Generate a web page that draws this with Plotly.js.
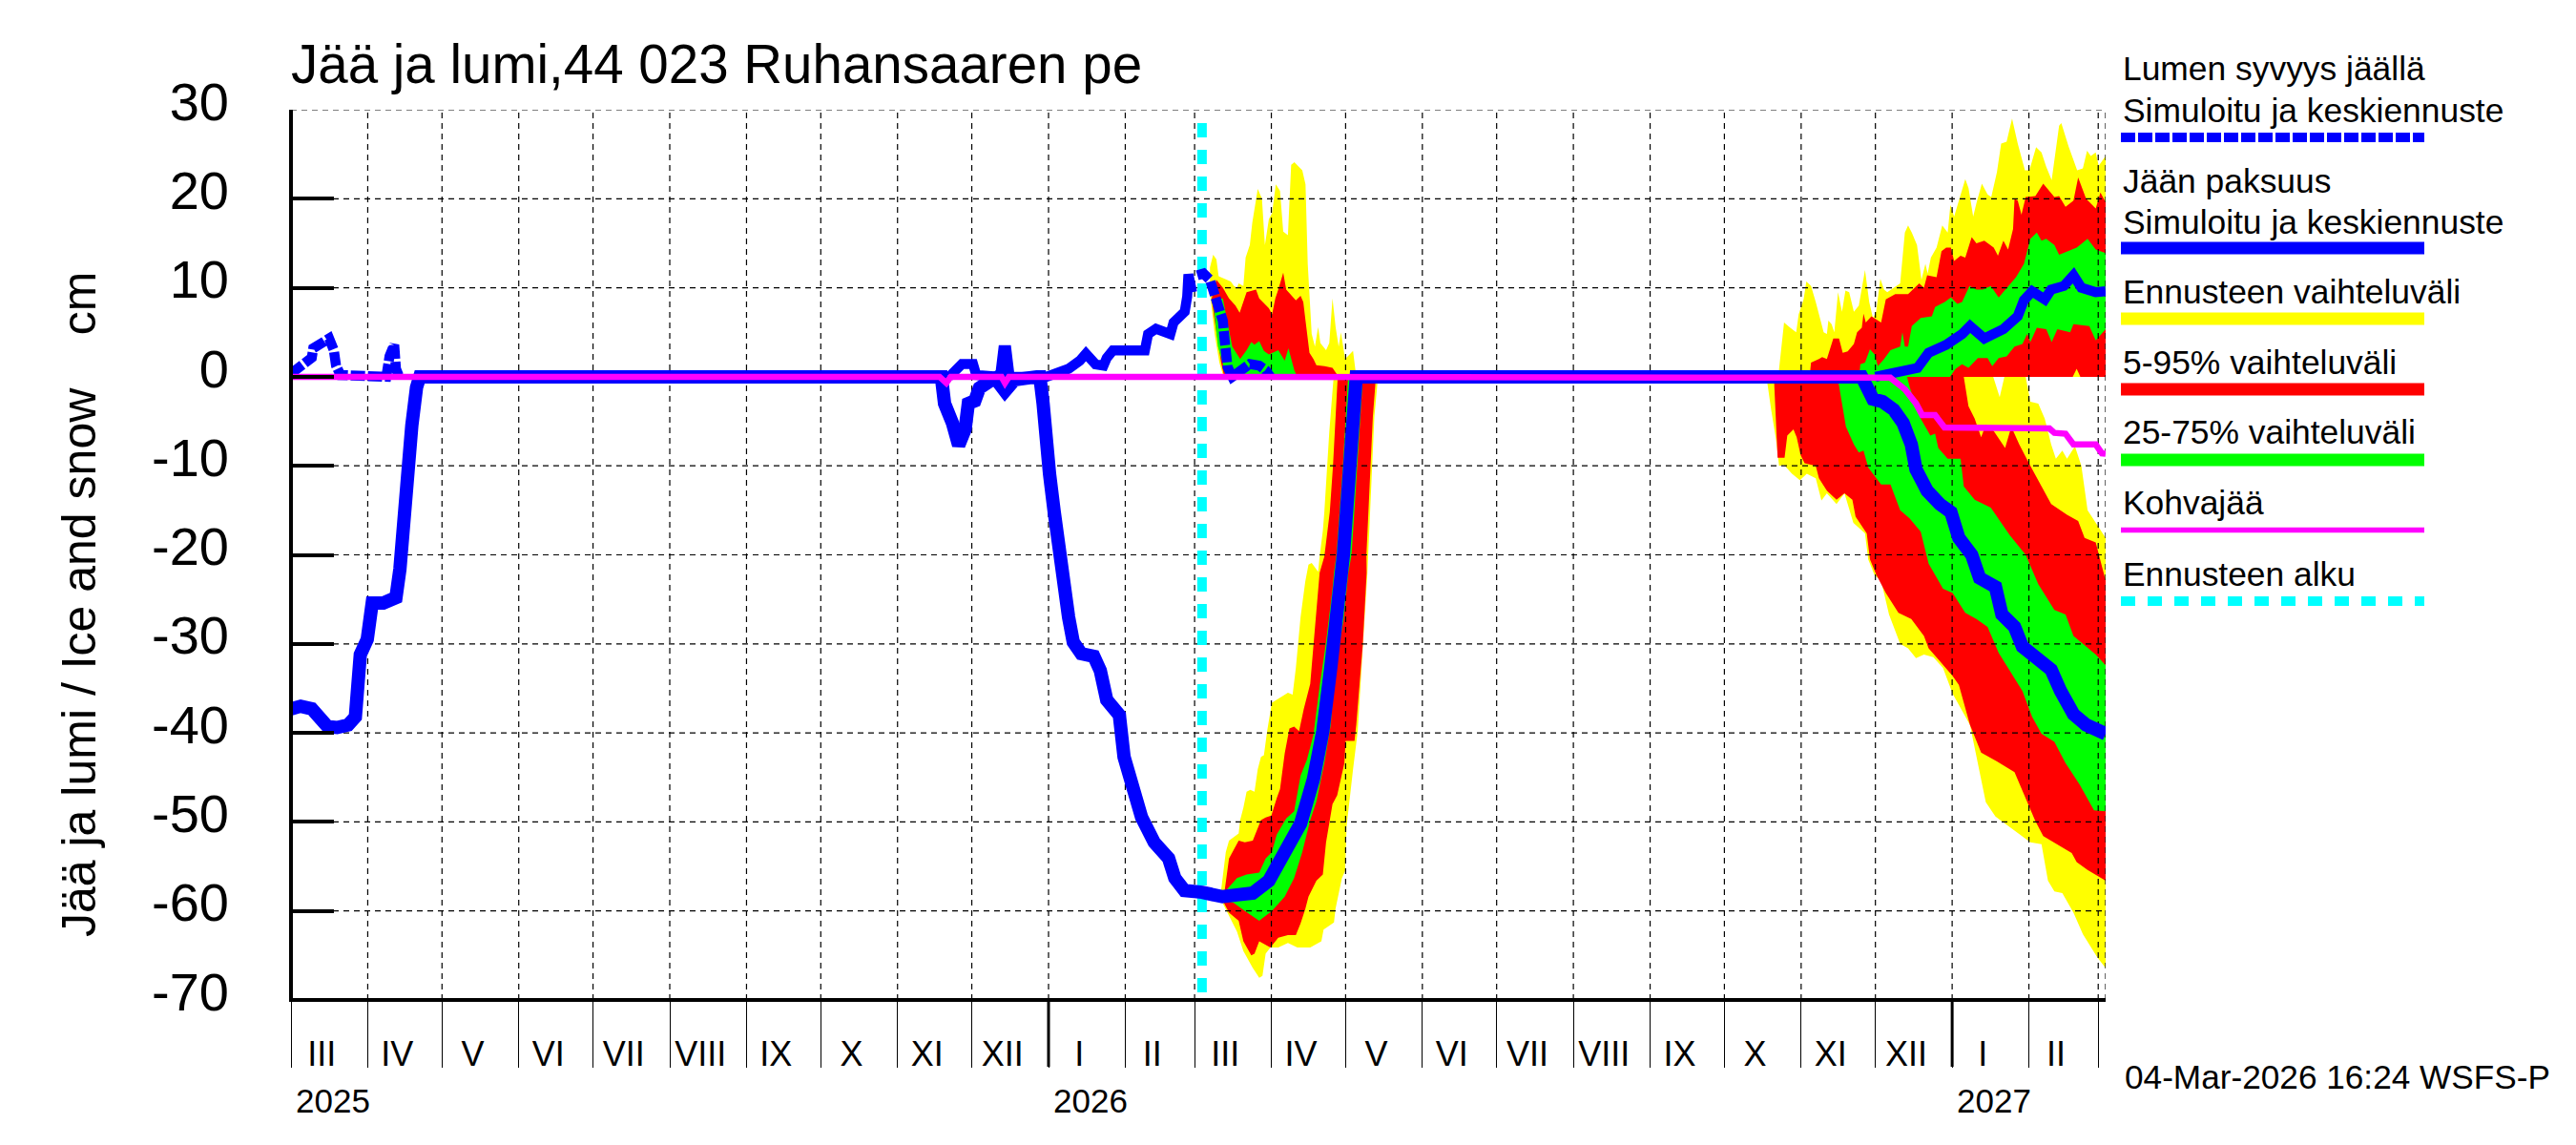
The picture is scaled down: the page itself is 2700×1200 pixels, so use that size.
<!DOCTYPE html>
<html><head><meta charset="utf-8">
<script src="https://cdn.plot.ly/plotly-3.0.1.min.js"></script>
<style>html,body{margin:0;padding:0;background:#fff}</style></head>
<body><div id="chart" style="width:2700px;height:1200px"></div>
<script>
// All series: day = days since 2025-03-01, cm = centimetres
const startDate = '2025-03-01', endDate = '2027-03-04', forecastDate = '2026-03-04';
const titleText = 'Jää ja lumi,44 023 Ruhansaaren pe';
const yTitleText = 'Jää ja lumi / Ice and snow\u00a0\u00a0\u00a0\u00a0cm';
const stampText = '04-Mar-2026 16:24 WSFS-P';
const monthAlias = {Jan:'I',Feb:'II',Mar:'III',Apr:'IV',May:'V',Jun:'VI',Jul:'VII',Aug:'VIII',Sep:'IX',Oct:'X',Nov:'XI',Dec:'XII'};
const yearTicks = ['2025-03-01','2026-01-01','2027-01-01'];
const yearLabels = ['2025','2026','2027'];
const heavyTicks = ['2026-01-01','2027-01-01'];
const monthStarts = ['2025-04-01','2025-05-01','2025-06-01','2025-07-01','2025-08-01','2025-09-01','2025-10-01','2025-11-01','2025-12-01','2026-01-01','2026-02-01','2026-03-01','2026-04-01','2026-05-01','2026-06-01','2026-07-01','2026-08-01','2026-09-01','2026-10-01','2026-11-01','2026-12-01','2027-01-01','2027-02-01','2027-03-01','2027-03-04'];
const yGrid = [30,20,10,-10,-20,-30,-40,-50,-60];
const yTickVals = [30,20,10,0,-10,-20,-30,-40,-50,-60,-70];
const yTickText = ['30','20','10','0','-10','-20','-30','-40','-50','-60','-70'];

// Simulated + mean forecast ice thickness
const iceDay = [0,3.9,8.4,11.6,14.8,18.6,23.1,26,26.7,28,30.8,32.1,32.8,37.3,42.4,44,45.6,46.9,48.8,50.7,52,262.7,264,267.2,269.7,272.3,273.6,276.2,278.1,282,284.5,288.4,292.2,301.2,302.5,303.8,305,306.4,308.3,310.2,312.1,314.1,316,319.2,324.3,326.9,329.5,334.6,336.5,339.7,343.6,348.7,354.5,357,360.9,368,376.3,382.1,388.5,395,401.4,407.8,413,416.8,420,424.5,425.1,427.7,429.8,430.3,634.5,635.2,636.5,639,642.9,647.4,651.2,654.5,656.4,660.9,666,670.5,673.7,678.9,682.1,688.5,691.1,696.2,699.4,704.6,711,714.8,720,725.1,733];
const iceCm = [-37.3,-37,-37.3,-38.4,-39.3,-39.4,-39.1,-38.2,-34.1,-31.2,-29.5,-26.2,-25.4,-25.4,-24.8,-21.6,-15.2,-10.9,-5.5,-1.2,0,0,-3,-5.2,-7.7,-5.9,-3,-2.7,-1.25,-0.53,-0.17,-1.6,-0.35,0,0,-3,-8.4,-10.9,-15.2,-19.8,-22.7,-27,-29.8,-31.1,-31.4,-33,-36.3,-38,-42.7,-46.3,-49.5,-52.3,-54.1,-56.3,-57.7,-57.9,-58.4,-58.2,-58,-56.6,-53.4,-50.2,-45.2,-39.8,-32.7,-22,-20,-10,-0.9,0,0,-0.4,-1.1,-2.5,-2.8,-3.7,-5.2,-7.6,-10.4,-12.8,-14.3,-15.2,-18.1,-20,-22.6,-23.6,-26.7,-28.1,-30.3,-31.5,-32.9,-35.3,-37.9,-39.1,-40.1];

// Simulated + mean forecast snow depth on ice
const snowDay = [0,3.9,8.4,9,15.4,17.3,18.2,20,38.5,39.8,41.7,42.4,43.7,265.9,269.1,271,275.5,276.8,286.4,287.7,289,290.3,305.1,314.1,318.6,321.1,325,328.2,329.5,332,344.9,346.2,349.4,355.2,356.5,359,361,362,362.5,364,366.1,368.6,371.2,373.1,375,376.4,377,377.6,378.3,380.2,383.4,387.3,391.1,393.7,395.6,640,645.5,651.9,657,661.5,668.6,675,678.2,684,691.7,697.5,700,703.3,708.4,711,716.1,720,723.2,729,733];
const snowCm = [0.36,1.26,2.15,3.2,4.3,3,1.26,0.2,0,2.3,3.6,0.9,0,0,0.72,1.43,1.43,0.2,0,3,3,0,0,0.9,1.8,2.6,1.4,1.25,2.1,2.97,2.97,4.8,5.4,4.8,6.1,6.8,7.3,9,11.5,9.5,11.4,11.6,10.9,9.5,8,6.3,4.5,2.7,1.1,0,0.55,1.44,1.26,0.75,0,0,0.35,0.5,1,2.7,3.6,4.8,5.7,4.3,5.35,6.8,8.6,9.6,8.7,9.8,10.2,11.4,10,9.5,9.6];
// stretches of the snow line where its dashes open up in the reference
const snowDashedSpans = [[0,44],[366,396]];

// Frazil / slush ice
const slushDay = [0,262,264.7,266.5,287,288.4,290,639,646,651.9,656.4,658.9,664.1,667.9,710.3,712.3,716.8,720,729,731.5,733];
const slushCm = [0,0,-0.7,0,0,-0.7,0,0,-0.1,-1.4,-3,-4.3,-4.3,-5.7,-5.8,-6.3,-6.4,-7.6,-7.6,-8.6,-8.65];

// Forecast start marker
const forecastMarkCm = [28.5,-70];

// ---- Spring 2026 ice bands
const spIceYelTopDay = [375.7,377.6,378.9,382.8,383.4,384.7,386,387.5,389.2,390.5,391.8,393,394.3,396.2,402.7,404.6,405.9,407.8,409.7,411,412.3,414.9,415.5,416.8,417.4,418.5,419.4,420.9,421.2];
const spIceYelTopCm  = [-57.7,-53.4,-52.1,-51.3,-49.8,-48.4,-46.6,-46.4,-46.6,-44.1,-42.7,-42.5,-39.8,-36.6,-35.5,-35.7,-32.7,-27,-23,-21.1,-20.9,-21.9,-20.2,-17.3,-15.2,-10,-6.2,-0.9,0];
const spIceYelBotDay = [376.3,379.6,382.1,384.7,388.5,391.1,392.4,393.7,395.6,398.8,402.7,406.5,411.7,416.2,417.1,421.3,421.9,424.5,425.8,426.4,429,430.9,432.9,434.8,435.2,436.1,436.7,437.6,438.8,438.9];
const spIceYelBotCm  = [-59.1,-60.9,-62.3,-64.5,-66.4,-67.5,-67.3,-64.8,-64.1,-64.1,-63.6,-64.1,-64.1,-63.4,-62.1,-61.3,-59.8,-56.3,-55.5,-50.5,-44.1,-39.8,-30.5,-22,-20,-15.2,-10,-4.5,-0.9,0];
const spIceRedTopDay = [377,378.9,382.8,385.3,388.5,391.8,393.7,396,398.2,399.5,401.4,403.3,405.2,407.2,409.1,411.7,413,415.5,417.4,419.6,420.9,422.6,422.8];
const spIceRedTopCm  = [-58,-54.1,-52.1,-52.3,-52.1,-49.8,-49.5,-49.3,-47.3,-46.3,-42.3,-39.5,-39.3,-39.8,-37.3,-34.5,-30.2,-22,-20.2,-15.2,-10,-0.9,0];
const spIceRedBotDay = [376.3,378.9,382.8,384.7,387.9,389.2,391.1,395.6,398.8,402.7,405.9,407.8,409.7,411,414.2,416.8,418.1,420.7,422.6,425.5,426,429.6,430.3,432.9,434.5,434.4,435.4,436.1,437,438,438.1];
const spIceRedBotCm  = [-58.8,-60.2,-61.1,-63.4,-65,-64.8,-63.4,-64.1,-63,-62.7,-62.7,-61.4,-59.8,-58.4,-56.6,-55.9,-52.3,-48,-47,-43.4,-40.9,-40.9,-39.1,-30.2,-22,-20,-15.2,-10,-4.5,-0.9,0];
const spIceGrnTopDay = [378.3,382.1,386,391.1,393.7,396.2,398.2,402,405.2,407.8,410.4,413,415.5,418.1,420.7,421.3,422.3,423.5,424.9,426.8,427];
const spIceGrnTopCm  = [-57.5,-56.3,-55.9,-55.7,-54.1,-53.4,-51.4,-49.6,-48.8,-44.8,-43,-40.2,-34.8,-29.8,-23.8,-22,-20,-15.2,-10,-0.9,0];
const spIceGrnBotDay = [377,380.8,385.3,391.1,396.2,401.4,405.2,408.5,411.7,414.2,417.4,420,421.9,425.2,427.1,428.4,429.3,430.7,432.8,433];
const spIceGrnBotCm  = [-58.8,-59.1,-60,-61.1,-60,-58.4,-56.3,-53.4,-49.8,-47.7,-43.4,-39.1,-32.7,-27.3,-22,-20,-15.9,-10,-0.9,0];

// ---- Spring 2026 snow bands
const spSnowYelTopDay = [371.2,372.5,373.8,374.7,379.6,380.9,382.1,382.8,384.7,385.6,387.3,388.3,390.5,392.2,393.4,395,396.3,397.8,399.5,400.8,402.7,404,405.3,408.5,409.8,410.7,412.3,413.6,414.9,415.8,418.1,419.4,420.7,422,423.2,424.1,425.8,429,430.3];
const spSnowYelTopCm  = [12.3,13.7,13.2,11.3,10.7,10.2,10,10.5,10.2,13.4,14.8,17.3,21.1,20,14.8,17.7,18.4,21.6,20.9,16.3,15.9,23.8,24.1,23.2,21.6,12.7,4.8,3.4,5.6,3.8,3,3.8,8.8,5.5,3.4,5,2,2.9,0];
const spSnowYelBotDay = [371.2,373.1,375,376.7];
const spSnowYelBotCm  = [9.5,4.8,1.6,0];
const spSnowRedTopDay = [373.8,376.4,378.9,381.5,383.2,386,389.8,391.1,395,396.3,397.6,398.8,400.8,402,405.9,407.8,408.9,409.8,411.4,413,414.2,417.5,420.7,423.2];
const spSnowRedTopCm  = [10.9,10,8.8,8,7.2,9.5,9.8,8.8,7.7,7,8.8,9.8,11.7,9.8,8.6,9.1,8.4,6.3,2.7,2,1.3,1.2,1,0];
const spSnowRedBotDay = [371.9,373.1,375.7,377];
const spSnowRedBotCm  = [8.8,6.3,1.6,0];
const spSnowGrnTopDay = [371.9,376.4,378.3,380.2,383.4,386,387.9,389.2,391.1,393,395,398.8,401.4,402.9,405.3,406.5];
const spSnowGrnTopCm  = [8.6,8.8,6.3,3.4,2,3,3.9,3.6,4,2.9,2.5,3,1.8,3.2,0.7,0];
const spSnowGrnBotDay = [372.5,374.4,376.3,377.6];
const spSnowGrnBotCm  = [8.4,3.4,1.6,0];

// ---- Autumn 2026 -> 2027 snow bands
const auSnowYelDay = [601.1,601.8,603.1,605.6,608,609,610,611,612.1,614,615.9,617.2,619.1,620.4,621,622.3,623.4,624.9,626.5,627.9,629.4,631.3,633.3,635.8,637.5,639,640.3,642,643.5,644.8,650,651.9,653.2,654.7,656.8,658.6,660.2,661.1,662.4,664.7,667,669.2,670.3,671.8,673.7,676.3,677.6,679.5,680.8,683,685.3,686.8,689.1,690.8,693,695.2,697.5,700.4,702.2,704.9,707.1,709,711.2,714.2,715.1,718,721.5,723.8,725.5,727,729,730.2,733];
const auSnowYelCm  = [0.9,3,6.1,5.5,5,7,8,8.7,10.7,10.2,8.4,7,5,4.8,6.3,5.9,5,9.5,7.3,9.7,9.5,7.3,8,12,8.4,6.6,7.3,11,9.8,9.5,10.5,16.2,17,16.2,14.8,10.9,12.7,11.6,13.4,14.5,17,16.2,19.3,18,19.8,22.2,21.2,18,19.5,21.7,20.5,20.2,23,26.2,26.4,29,26.2,23.2,23.2,25.8,25.2,23.6,22.1,28.2,28.5,25.9,23.2,23.4,25.4,24.8,25.2,23.7,24.8];
const auSnowRedDay = [613.4,614,617.2,618.5,620.4,623,625.3,626.8,628.8,631.3,632.6,634.5,635.2,636.1,638.4,642.3,644.2,648,653.2,657.7,659.6,660.9,664.7,666.7,668.6,670.5,671.8,674.4,676.3,678.9,680.8,684,687.8,689.5,691.7,693.6,695.6,696.2,697.5,699,700.7,704.6,707.8,712.3,714.2,716.8,720,721.9,725.1,729,730.9,733];
const auSnowRedCm  = [0,1.6,2,2.2,2,4.3,4.3,2.7,2.85,3.7,5,5.5,7.1,6.1,6.8,6.1,8.7,9.3,9.3,10.5,10,11.4,11.2,14.1,14.5,14.5,13,13.6,13.4,15.7,15,15.3,14.5,13.6,15.3,14.3,16.6,20,19.8,18.2,20.2,20.3,21.7,20.2,20.3,19.1,19.8,22.4,20,18.9,20.7,19.6];
const auSnowRedLowDay = [719.7,721.3,722.8];
const auSnowRedLowCm  = [0,0.9,0];
const auSnowGrnTopDay = [633.5,633.9,635.8,637.8,639.7,641,643.5,646.1,650,650.9,651.9,653.2,654.7,658.3,662.8,664.1,668,670.5,673.1,675,678,680.8,683.4,686.6,689.8,693,696.8,700,702.6,705.2,707.1,709,712.3,714.2,717.4,721.3,725.7,729,733];
const auSnowGrnTopCm  = [0,1.4,1.6,3.1,2.5,1.2,2,3,3.4,5,3.4,3.4,5.7,6.6,6.8,7.85,8.4,8.9,8.2,8.4,10.2,9.8,9.8,10.2,8.9,10,11.2,12.7,15.5,16.2,15.3,15.5,14.8,13.7,14.1,14.5,15.5,14.3,13.9];
const auSnowGrnBotDay = [670.1,672.4,675,677.6,681.4,685.3,687.2,689.8,693,696.2,699.4,701.3,702.6,705.2,709,711.2,713.5,718.7,720,726.4,729,733];
const auSnowGrnBotCm  = [0,0.9,1.4,1,2.1,2.1,1.2,2.1,2.3,3.4,3.7,4.8,3.9,5.5,5.35,3.9,5.35,5,5.9,5.7,4.1,5.35];

// ---- Autumn 2026 -> 2027 ice bands
const auIceYelLowDay = [596,597.9,599.9,601.1,603.1,606.3,609.5,612.3,615.9,618.2,620.4,624.3,627.5,631.1,635.8,637.1,639.7,642.3,645.5,650,653.2,656.4,659.6,663.4,667.3,671.2,678.2,680.8,684.6,688.5,694.3,702.6,707.1,709.7,712.3,715.5,720,723.8,729.6,733];
const auIceYelLowCm  = [0,-3.7,-7.1,-10,-9.9,-10.9,-11.6,-10.9,-11.4,-13.9,-13.1,-14.3,-13.1,-16.4,-17.6,-20.5,-22.3,-22.9,-26.7,-30,-30.5,-31.6,-31.2,-31.5,-32.7,-35.6,-39.1,-42.5,-47.8,-49.4,-50.6,-52.3,-52.5,-56.6,-57.8,-58,-60.2,-62.6,-65.2,-66.4];
const auIceRedLowDay = [599,599.2,600.5,603.3,604.4,606.9,608.2,609.8,611.4,615.9,617.2,620.4,624.3,627.5,630.7,632,636.5,637.8,640.3,644.2,649.3,654.5,659.6,661.5,666,671.2,673.7,678.2,682.7,689.1,696.2,700,704.6,707.8,713.5,719.3,721.3,725.7,733];
const auIceRedLowCm  = [0,-0.9,-9.1,-9.1,-6.6,-5.9,-6.8,-8.8,-9.7,-10,-11.4,-12.8,-13.8,-13.1,-13.8,-15.7,-17.6,-20.5,-22.2,-24.3,-26.5,-27.2,-29.1,-30.5,-32,-33.6,-34.6,-39.1,-42.2,-43.2,-44.4,-46.8,-49.9,-51.6,-52.5,-53.5,-54.5,-55.4,-56.6];
const auIceGrnLowDay = [624.7,626.8,628.1,631.3,633.3,635.2,637.1,642.3,646.1,650,653.8,658.3,661.5,667.3,671.2,676.3,680.8,685.3,689.8,699.4,703.3,707.1,712.3,716.8,722.5,728.3,733];
const auIceGrnLowCm  = [0,-3.3,-5.6,-7.6,-8.5,-8.3,-10.2,-12.1,-12.1,-15,-15.9,-17.4,-21,-23.8,-24.3,-26.5,-27.2,-28.1,-31,-35.3,-38.2,-40.1,-41,-43.4,-45.8,-48.7,-48.8];
const auIceGrnUpDay = [652.8,653.8,656.4,658.3,662.2,664.1,665.4,669.2,674.4,675.7,680.1,686.6,694.3,700.7,705.8,712.3,716.8,720,729,733];
const auIceGrnUpCm  = [0,-1.1,-3.3,-4.7,-6.6,-6.4,-8,-9.2,-9.2,-12.3,-13.8,-14.7,-17.8,-20,-23.3,-26.2,-26.7,-29.1,-31.2,-32.4];
const auIceRedUpDay = [675.7,677.6,680.1,682.7,684.6,687.8,692.4,694.9,698.1,702.6,707.1,711,717.4,721.9,724.5,729,733];
const auIceRedUpCm  = [0,-3.3,-4.7,-6.8,-5.4,-6.1,-8,-5.6,-7.6,-10,-12.3,-14.3,-15.5,-16.2,-18.1,-18.6,-22.9];
const auIceYelUpDay = [687.6,690.2,692.1,700.7,702.6,705.8,708.4,711,712.9,715.5,717.4,720.6,723.2,725.7,730.2,733];
const auIceYelUpCm  = [0,-2.3,0,0,-2.8,-3,-4.7,-7.6,-9.2,-8.3,-9.2,-7.8,-10,-15,-16.9,-18.1];

const YELLOW='#ffff00', RED='#ff0000', GREEN='#00ff00', BLUE='#0000ff', MAGENTA='#ff00ff', CYAN='#00ffff';

const t0 = Date.UTC(2025,2,1);
const toDate = d => new Date(t0 + d*86400000).toISOString().slice(0,19);
// closed band outline: edge a left to right, edge b back right to left
function band(ad,av,bd,bv,color){
  const dd = ad.concat(bd.slice().reverse()), vv = av.concat(bv.slice().reverse());
  return {x:dd.map(toDate), y:vv, type:'scatter', mode:'lines', fill:'toself', fillcolor:color,
          line:{width:0,color:color}, hoverinfo:'skip', showlegend:false};
}
const traces = [
  // snow spring 2026
  band(spSnowYelBotDay,spSnowYelBotCm,spSnowYelTopDay,spSnowYelTopCm,YELLOW),
  band(spSnowRedBotDay,spSnowRedBotCm,spSnowRedTopDay,spSnowRedTopCm,RED),
  band(spSnowGrnBotDay,spSnowGrnBotCm,spSnowGrnTopDay,spSnowGrnTopCm,GREEN),
  // ice spring 2026
  band(spIceYelTopDay,spIceYelTopCm,spIceYelBotDay,spIceYelBotCm,YELLOW),
  band(spIceRedTopDay,spIceRedTopCm,spIceRedBotDay,spIceRedBotCm,RED),
  band(spIceGrnTopDay,spIceGrnTopCm,spIceGrnBotDay,spIceGrnBotCm,GREEN),
  // snow winter 2026-27
  band(auSnowYelDay,auSnowYelCm,[601.1,733],[0,0],YELLOW),
  band(auSnowRedDay,auSnowRedCm,[613.4].concat(auSnowRedLowDay,[733]),[0].concat(auSnowRedLowCm,[0]),RED),
  band(auSnowGrnTopDay,auSnowGrnTopCm,[633.5].concat(auSnowGrnBotDay),[0].concat(auSnowGrnBotCm),GREEN),
  // ice winter 2026-27
  band([auIceYelLowDay[0]].concat(auIceYelUpDay),[0].concat(auIceYelUpCm),auIceYelLowDay,auIceYelLowCm,YELLOW),
  band([599].concat(auIceRedUpDay),[0].concat(auIceRedUpCm),auIceRedLowDay,auIceRedLowCm,RED),
  band(auIceGrnUpDay,auIceGrnUpCm,auIceGrnLowDay,auIceGrnLowCm,GREEN)
];
// dashed grid sits above the bands and below the lines
const gridStyle = {color:'#000000',width:1.2,dash:'6px,5px'};
const gx=[],gy=[];
monthStarts.forEach(m=>{gx.push(m,m,null);gy.push(-70,30,null);});
const hx=[],hy=[];
yGrid.forEach(v=>{hx.push(startDate,endDate,null);hy.push(v,v,null);});
traces.push({x:gx,y:gy,type:'scatter',mode:'lines',connectgaps:false,line:gridStyle,hoverinfo:'skip',showlegend:false});
traces.push({x:hx,y:hy,type:'scatter',mode:'lines',connectgaps:false,line:gridStyle,hoverinfo:'skip',showlegend:false});
traces.push({x:[forecastDate,forecastDate],y:forecastMarkCm,type:'scatter',mode:'lines',name:'Ennusteen alku',
  line:{color:CYAN,width:10,dash:'15px,13px'},showlegend:false,cliponaxis:false});
// snow line: solid everywhere, dashed over the stretches listed above
const inSpan = d => snowDashedSpans.some(s=>d>=s[0]&&d<=s[1]);
traces.push({x:snowDay.map(toDate),y:snowCm.map((v,i)=>inSpan(snowDay[i])?null:v),
  type:'scatter',mode:'lines',name:'Lumen syvyys jäällä',line:{color:BLUE,width:10.5},showlegend:false,cliponaxis:false});
traces.push({x:snowDay.map(toDate),y:snowCm.map((v,i)=>inSpan(snowDay[i])?v:null),
  type:'scatter',mode:'lines',name:'Lumen syvyys jäällä',line:{color:BLUE,width:10.5,dash:'15px,3px'},showlegend:false,cliponaxis:false});
traces.push({x:iceDay.map(toDate),y:iceCm,type:'scatter',mode:'lines',name:'Jään paksuus',
  line:{color:BLUE,width:14},showlegend:false,cliponaxis:false});
traces.push({x:slushDay.map(toDate),y:slushCm,type:'scatter',mode:'lines',name:'Kohvajää',
  line:{color:MAGENTA,width:6.5},showlegend:false,cliponaxis:false});

// plot frame in page pixels, used only to place the text and key outside the axes
const L=305,R=2207,T=115,B=1048;
const PX=p=>(p-L)/(R-L), PY=p=>(B-p)/(B-T);
const FONT='"Liberation Sans", Arial, sans-serif';
const keyText = [
  ['Lumen syvyys jäällä',72.5],['Simuloitu ja keskiennuste',115.5],['Jään paksuus',190],['Simuloitu ja keskiennuste',232.5],
  ['Ennusteen vaihteluväli',306],['5-95% vaihteluväli',380],['25-75% vaihteluväli',453],['Kohvajää',527],['Ennusteen alku',601.6]
];
const keyLines = [
  [144,BLUE,10,'15px,3px'],[260,BLUE,13,'solid'],[334,YELLOW,13,'solid'],[408,RED,13,'solid'],
  [482,GREEN,13,'solid'],[555.5,MAGENTA,5.5,'solid'],[630,CYAN,10,'15px,13px']
];
const annotations = keyText.map(k=>({text:k[0],xref:'paper',yref:'paper',x:PX(2223),y:PY(k[1]),xanchor:'left',yanchor:'middle',showarrow:false,font:{family:FONT,size:35.4,color:'#000'}}));
annotations.push({text:yTitleText,xref:'paper',yref:'paper',x:PX(83),y:PY(633),textangle:-90,xanchor:'center',yanchor:'middle',showarrow:false,font:{family:FONT,size:50,color:'#000'}});
annotations.push({text:stampText,xref:'paper',yref:'paper',x:PX(2225),y:PY(1128),xanchor:'left',yanchor:'middle',showarrow:false,font:{family:FONT,size:35.2,color:'#000'}});
yearTicks.forEach((d,i)=>annotations.push({text:yearLabels[i],xref:'x',yref:'paper',x:d,xshift:3,y:PY(1153),xanchor:'left',yanchor:'middle',showarrow:false,font:{family:FONT,size:35,color:'#000'}}));

const shapes = keyLines.map(k=>({type:'line',xref:'paper',yref:'paper',x0:PX(2223),x1:PX(2541),y0:PY(k[0]),y1:PY(k[0]),line:{color:k[1],width:k[2],dash:k[3]}}));
heavyTicks.forEach(d=>shapes.push({type:'line',xref:'x',yref:'paper',x0:d,x1:d,y0:0,y1:PY(1118),line:{color:'#000',width:3}}));
// left and bottom axis rules, centred on the plot edges
shapes.push({type:'line',xref:'paper',yref:'paper',x0:0,x1:0,y0:-2/(B-T),y1:1,line:{color:'#000',width:4}});
shapes.push({type:'line',xref:'paper',yref:'paper',x0:0,x1:1,y0:0,y1:0,line:{color:'#000',width:4}});

const layout = {
  width:2700,height:1200,margin:{l:L,r:2700-R,t:T,b:1200-B,pad:0},
  paper_bgcolor:'#fff',plot_bgcolor:'#fff',showlegend:false,hovermode:false,
  font:{family:FONT,color:'#000'},
  title:{text:titleText,xref:'container',yref:'container',x:L/2700,xanchor:'left',y:1-67/1200,yanchor:'middle',font:{family:FONT,size:56.5,color:'#000'}},
  xaxis:{type:'date',range:[startDate,endDate],tickmode:'linear',tick0:startDate,dtick:'M1',tickformat:'%b',labelalias:monthAlias,
    ticklabelmode:'period',ticks:'outside',ticklen:70,tickwidth:1,tickcolor:'#000',ticklabelstandoff:-45,ticklabelshift:-8,
    tickfont:{family:FONT,size:36,color:'#000'},showgrid:false,zeroline:false,showline:false},
  yaxis:{range:[-70,30],tickmode:'array',tickvals:yTickVals,ticktext:yTickText,ticks:'inside',ticklen:45,tickwidth:4,tickcolor:'#000',
    ticklabelstandoff:64,ticklabelshift:-9,tickfont:{family:FONT,size:56,color:'#000'},showgrid:false,
    zeroline:true,zerolinecolor:'#000',zerolinewidth:1,showline:false},
  annotations:annotations,shapes:shapes
};
Plotly.newPlot('chart',traces,layout,{staticPlot:true,displayModeBar:false});
</script></body></html>
